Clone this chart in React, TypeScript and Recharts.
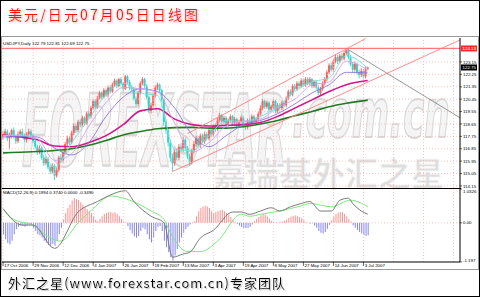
import React from 'react';
import { ComposedChart, Bar, Line, XAxis, YAxis, ReferenceLine, Cell } from 'recharts';

// ---------- data ----------
const opens = [
  117.7, 117.9, 118.1, 117.6, 117.8, 118.2, 117.7, 117.4, 117.9, 118.1,
  117.8, 117.5, 117.9, 118.1, 117.8, 117.4, 117.0, 116.6, 116.9, 116.2,
  115.8, 116.1, 115.5, 115.2, 115.6, 114.9, 115.3, 116.2, 116.0, 116.6,
  117.2, 117.6, 117.3, 118.0, 118.5, 118.2, 118.8, 118.6, 119.1, 118.7,
  119.4, 119.2, 119.8, 120.3, 119.9, 120.5, 120.9, 120.6, 121.1, 120.8,
  121.3, 121.0, 121.5, 121.8, 121.4, 121.9, 121.6, 121.2, 122.1, 121.7,
  121.3, 121.2, 120.5, 120.1, 120.9, 121.6, 121.9, 121.4, 120.6, 119.6,
  120.0, 120.7, 121.3, 121.5, 121.1, 120.4, 118.8, 118.2, 117.3, 116.2,
  115.8, 116.6, 116.2, 117.0, 116.8, 117.5, 116.9, 116.3, 115.9, 116.7,
  117.2, 117.6, 117.1, 117.8, 117.4, 117.9, 117.6, 118.2, 117.9, 118.5,
  118.3, 118.9, 119.3, 118.8, 119.1, 118.6, 118.9, 119.2, 118.7, 119.0,
  118.5, 118.8, 119.1, 118.6, 118.4, 118.9, 118.7, 119.2, 118.8, 119.0,
  119.4, 119.8, 120.3, 119.9, 120.2, 119.7, 119.9, 120.3, 119.6, 120.0,
  119.8, 120.2, 120.0, 120.5, 121.0, 120.8, 121.4, 121.2, 121.6, 121.4,
  121.8, 121.5, 121.9, 121.6, 121.9, 121.4, 121.7, 121.3, 120.9, 121.2,
  121.6, 121.9, 122.4, 122.9, 122.6, 123.2, 123.5, 123.2, 123.6, 123.4,
  123.8, 124.0, 123.5, 123.0, 122.6, 123.0, 122.4, 122.2, 122.5, 122.1, 122.6,
];
const highs = [
  118.1, 118.3, 118.25, 118.0, 118.3, 118.4, 117.8, 118.1, 118.25, 118.3,
  117.95, 118.05, 118.3, 118.25, 117.9, 117.55, 117.15, 117.1, 117.0, 116.4,
  116.3, 116.25, 115.7, 115.8, 115.75, 115.5, 116.35, 116.45, 116.75, 117.35,
  117.8, 117.75, 118.15, 118.7, 118.65, 118.95, 119.0, 119.25, 119.2, 119.55,
  119.6, 119.95, 120.45, 120.45, 120.7, 121.05, 121.0, 121.25, 121.2, 121.45,
  121.45, 121.65, 121.95, 121.9, 122.0, 122.05, 121.7, 122.2, 122.2, 121.85,
  121.5, 121.35, 120.65, 121.05, 121.75, 122.05, 122.0, 121.55, 120.7, 120.2,
  120.85, 121.45, 121.65, 121.6, 121.2, 120.5, 119.0, 118.4, 117.5, 116.5,
  116.8, 116.85, 117.2, 117.25, 117.7, 117.65, 117.05, 116.5, 116.85, 117.4,
  117.8, 117.75, 117.95, 117.95, 118.1, 118.05, 118.35, 118.4, 118.65, 118.7,
  119.1, 119.45, 119.4, 119.25, 119.2, 119.05, 119.35, 119.3, 119.15, 119.1,
  118.95, 119.25, 119.2, 118.75, 119.05, 119.05, 119.35, 119.3, 119.15, 119.55,
  120.0, 120.45, 120.4, 120.35, 120.3, 120.05, 120.45, 120.4, 120.15, 120.15,
  120.35, 120.35, 120.65, 121.15, 121.15, 121.55, 121.55, 121.75, 121.75, 121.95,
  121.95, 122.05, 122.05, 122.05, 122.0, 121.85, 121.85, 121.45, 121.35, 121.75,
  122.05, 122.55, 123.05, 123.1, 123.35, 123.7, 123.65, 123.75, 123.8, 123.95,
  124.13, 124.1, 123.65, 123.15, 123.2, 123.1, 122.6, 122.7, 122.65, 122.8, 122.81,
];
const lows = [
  117.5, 117.75, 117.4, 116.8, 117.6, 117.6, 117.2, 117.25, 117.7, 117.65,
  117.35, 117.3, 117.75, 117.65, 117.25, 116.8, 116.4, 116.45, 116.05, 115.6,
  115.65, 115.35, 115.0, 115.05, 114.6, 114.75, 115.15, 115.8, 115.85, 116.45,
  117.05, 117.1, 117.2, 117.85, 118.0, 118.05, 118.4, 118.45, 118.55, 118.6,
  119.05, 119.05, 119.7, 119.75, 119.75, 120.4, 120.45, 120.5, 120.65, 120.65,
  120.85, 120.9, 121.35, 121.25, 121.3, 121.45, 121.0, 121.1, 121.55, 121.1,
  121.0, 120.35, 119.95, 119.95, 120.8, 121.45, 121.25, 120.45, 119.45, 119.4,
  119.85, 120.55, 121.1, 120.95, 120.25, 118.5, 117.9, 117.0, 115.9, 115.2,
  115.6, 116.0, 116.0, 116.6, 116.6, 116.75, 116.1, 115.6, 115.7, 116.5,
  117.0, 116.95, 116.9, 117.25, 117.2, 117.45, 117.45, 117.7, 117.75, 118.1,
  118.15, 118.75, 118.6, 118.65, 118.45, 118.45, 118.75, 118.55, 118.55, 118.35,
  118.35, 118.65, 118.45, 118.2, 118.25, 118.55, 118.55, 118.65, 118.65, 118.85,
  119.25, 119.65, 119.75, 119.75, 119.55, 119.55, 119.75, 119.45, 119.45, 119.65,
  119.65, 119.85, 119.85, 120.35, 120.65, 120.65, 121.05, 121.05, 121.25, 121.25,
  121.35, 121.35, 121.45, 121.45, 121.25, 121.25, 121.15, 120.75, 120.75, 121.05,
  121.45, 121.75, 122.25, 122.45, 122.45, 123.05, 123.0, 123.05, 123.25, 123.25,
  123.65, 123.35, 122.85, 122.4, 122.45, 122.25, 121.95, 122.05, 121.95, 121.95, 122.69,
];
const closes = [
  117.9, 118.1, 117.6, 117.8, 118.2, 117.7, 117.4, 117.9, 118.1, 117.8,
  117.5, 117.9, 118.1, 117.8, 117.4, 117.0, 116.6, 116.9, 116.2, 115.8,
  116.1, 115.5, 115.2, 115.6, 114.9, 115.3, 116.2, 116.0, 116.6, 117.2,
  117.6, 117.3, 118.0, 118.5, 118.2, 118.8, 118.6, 119.1, 118.7, 119.4,
  119.2, 119.8, 120.3, 119.9, 120.5, 120.9, 120.6, 121.1, 120.8, 121.3,
  121.0, 121.5, 121.8, 121.4, 121.9, 121.6, 121.2, 122.1, 121.7, 121.3,
  121.2, 120.5, 120.1, 120.9, 121.6, 121.9, 121.4, 120.6, 119.6, 120.0,
  120.7, 121.3, 121.5, 121.1, 120.4, 118.8, 118.2, 117.3, 116.2, 115.8,
  116.6, 116.2, 117.0, 116.8, 117.5, 116.9, 116.3, 115.9, 116.7, 117.2,
  117.6, 117.1, 117.8, 117.4, 117.9, 117.6, 118.2, 117.9, 118.5, 118.3,
  118.9, 119.3, 118.8, 119.1, 118.6, 118.9, 119.2, 118.7, 119.0, 118.5,
  118.8, 119.1, 118.6, 118.4, 118.9, 118.7, 119.2, 118.8, 119.0, 119.4,
  119.8, 120.3, 119.9, 120.2, 119.7, 119.9, 120.3, 119.6, 120.0, 119.8,
  120.2, 120.0, 120.5, 121.0, 120.8, 121.4, 121.2, 121.6, 121.4, 121.8,
  121.5, 121.9, 121.6, 121.9, 121.4, 121.7, 121.3, 120.9, 121.2, 121.6,
  121.9, 122.4, 122.9, 122.6, 123.2, 123.5, 123.2, 123.6, 123.4, 123.8,
  124.0, 123.5, 123.0, 122.6, 123.0, 122.4, 122.2, 122.5, 122.1, 122.6, 122.75,
];

// moving averages, read at sparse bar positions
const maIdx = [0, 8, 16, 24, 32, 40, 48, 56, 64, 72, 80, 88, 96, 104, 112, 120, 128, 136, 144, 152, 160, 170];
const maCyan = [117.8, 117.85, 117.4, 115.5, 117.3, 119.0, 120.8, 121.6, 120.9, 120.7, 116.8, 116.7, 117.8, 118.9, 118.8, 119.2, 119.9, 121.0, 121.7, 122.0, 123.6, 122.7];
const maLavender = [117.8, 117.83, 117.6, 116.0, 116.5, 118.5, 120.2, 121.3, 121.2, 120.95, 118.7, 116.6, 117.3, 118.5, 118.85, 119.0, 119.85, 120.45, 121.5, 121.7, 123.2, 122.55];
const maPurple = [117.7, 117.75, 117.7, 116.9, 116.4, 117.3, 119.2, 120.6, 121.2, 121.0, 119.8, 117.9, 117.0, 117.8, 118.6, 118.9, 119.4, 120.1, 120.9, 121.5, 122.4, 122.35];
const maMagenta = [117.85, 117.7, 117.5, 117.05, 117.0, 117.3, 117.8, 118.6, 119.6, 119.75, 119.0, 118.6, 118.5, 118.55, 118.6, 118.75, 119.2, 119.8, 120.4, 121.0, 121.5, 121.8];
const maGreen = [116.55, 116.6, 116.65, 116.72, 116.85, 117.1, 117.45, 117.85, 118.1, 118.3, 118.38, 118.4, 118.35, 118.35, 118.45, 118.65, 118.9, 119.25, 119.55, 119.9, 120.15, 120.38];

// MACD histogram, one value per bar
const hist = [
  -0.35, -0.5, -0.62, -0.66, -0.55, -0.35, -0.2, -0.12, -0.08, -0.1,
  -0.12, -0.08, -0.05, -0.05, -0.15, -0.25, -0.35, -0.38, -0.45, -0.55,
  -0.6, -0.68, -0.72, -0.65, -0.7, -0.55, -0.35, -0.15, 0.1, 0.3,
  0.45, 0.55, 0.68, 0.75, 0.72, 0.7, 0.62, 0.55, 0.48, 0.42,
  0.35, 0.3, 0.2, 0.1, 0.05, 0.12, 0.2, 0.27, 0.3, 0.32,
  0.33, 0.3, 0.32, 0.28, 0.2, 0.12, 0.05, 0.02, -0.1, -0.22,
  -0.33, -0.42, -0.46, -0.4, -0.25, -0.15, -0.2, -0.35, -0.5, -0.6,
  -0.45, -0.25, -0.12, -0.1, -0.25, -0.55, -0.75, -0.9, -1.05, -1.15,
  -1.0, -0.8, -0.6, -0.45, -0.3, -0.2, -0.12, -0.05, 0.02, 0.05,
  0.2, 0.35, 0.45, 0.5, 0.52, 0.5, 0.45, 0.35, 0.3, 0.33,
  0.35, 0.38, 0.4, 0.35, 0.3, 0.25, 0.18, 0.1, 0.03, -0.03,
  -0.08, -0.13, -0.16, -0.17, -0.15, -0.12, -0.05, 0.05, 0.12, 0.18,
  0.23, 0.26, 0.25, 0.2, 0.13, 0.06, 0.03, 0.02, 0.02, 0.03,
  0.04, 0.06, 0.1, 0.15, 0.19, 0.21, 0.22, 0.2, 0.18, 0.14,
  0.08, 0.03, 0.01, -0.02, -0.01, -0.08, -0.15, -0.25, -0.3, -0.33,
  -0.28, -0.18, -0.06, 0.08, 0.18, 0.26, 0.31, 0.33, 0.32, 0.28,
  0.2, 0.12, 0.04, -0.08, -0.15, -0.22, -0.28, -0.33, -0.37, -0.4, -0.38,
];
const macdIdx = [0, 9, 14, 24, 35, 44, 50, 57, 61, 69, 75, 79, 84, 87, 92, 98, 107, 111, 115, 120, 125, 129, 134, 139, 143, 148, 153, 157, 161, 163, 167, 170];
const macdVals = [0.43, -0.07, -0.07, -0.78, 0.33, 0.65, 0.85, 0.98, 0.65, 0.2, 0.0, -1.05, -0.95, -0.9, -0.46, -0.23, 0.33, 0.33, 0.26, 0.36, 0.46, 0.36, 0.49, 0.59, 0.65, 0.36, 0.36, 0.69, 0.75, 0.59, 0.36, 0.26];
const signalIdx = [0, 5, 14, 22, 27, 35, 42, 50, 59, 69, 75, 78, 86, 92, 100, 111, 115, 120, 129, 139, 143, 153, 162, 170];
const signalVals = [0.43, 0.1, -0.07, -0.46, -0.56, 0.0, 0.43, 0.82, 0.69, 0.36, 0.1, -0.3, -0.88, -0.88, -0.56, 0.26, 0.2, 0.26, 0.36, 0.52, 0.59, 0.49, 0.69, 0.49];

// axis ticks / labels
const xTickIdx = [0, 14, 28, 42, 56, 70, 84, 98, 112, 126, 140, 154, 168, 182, 196, 210];
const xTickLabels = ['17 Oct 2006', '29 Nov 2006', '12 Dec 2006', '4 Jan 2007', '26 Jan 2007', '19 Feb 2007', '13 Mar 2007', '3 Apr 2007', '19 Apr 2007', '8 May 2007', '27 May 2007', '14 Jun 2007', '3 Jul 2007'];
const priceTicks = [114.15, 115.05, 115.95, 116.85, 117.75, 118.65, 119.55, 120.45, 121.35, 122.25, 123.15];
const macdTicks = [1.0326, 0, -1.197];
const macdTickLabels = ['1.0326', '0.00', '-1.197'];
const highLevel = 124.13;
const lastPrice = 122.75;
// trend lines: [barIndex, price]
const channelLow: [number, number][] = [[79, 115.2], [213, 124.75]];
const channelHigh: [number, number][] = [[86, 117.95], [169, 124.85]];
const downLine: [number, number][] = [[160, 124.13], [213, 119.1]];

// ---------- layout / style ----------
const SLOTS = 213;
const X_DOMAIN: [number, number] = [-0.5, SLOTS];
const UP = '#ff5c5c';
const DOWN = '#35d4c8';
const GRID = '#f3b9b9';
const FONT = 'Liberation Sans, Arial, sans-serif';
const TICK_FS = 4.4;

const mainRows: any[] = Array.from({ length: SLOTS }, (_, i) => {
  const r: any = { i };
  if (i < closes.length) {
    r.o = opens[i]; r.h = highs[i]; r.l = lows[i]; r.c = closes[i];
  }
  return r;
});
maIdx.forEach((idx, k) => {
  mainRows[idx].cy = maCyan[k];
  mainRows[idx].lv = maLavender[k];
  mainRows[idx].pu = maPurple[k];
  mainRows[idx].mg = maMagenta[k];
  mainRows[idx].gr = maGreen[k];
});
const macdRows: any[] = Array.from({ length: SLOTS }, (_, i) => {
  const r: any = { i };
  if (i < hist.length) r.hist = hist[i];
  return r;
});
macdIdx.forEach((idx, k) => { macdRows[idx].macd = macdVals[k]; });
signalIdx.forEach((idx, k) => { macdRows[idx].sig = signalVals[k]; });

const Candle = (props: any) => {
  const { x, y, width, height, payload } = props;
  if (!payload || payload.o == null || !isFinite(y)) return null;
  const { o, h, l, c } = payload;
  const color = c >= o ? UP : DOWN;
  const k = height / (h - l || 1);
  const yOf = (v: number) => y + (h - v) * k;
  const top = yOf(Math.max(o, c));
  const bot = yOf(Math.min(o, c));
  const cx = x + width / 2;
  return (
    <g>
      <line x1={cx} x2={cx} y1={y} y2={y + height} stroke={color} strokeWidth={0.9} />
      <rect x={x} y={top} width={width} height={Math.max(bot - top, 0.9)} fill={color} />
    </g>
  );
};

const PriceTick = (props: any) => {
  const { x, y, payload } = props;
  return (
    <g>
      <line x1={x} x2={x + 2} y1={y} y2={y} stroke="#000" strokeWidth={0.6} />
      <text x={x + 3} y={y + 1.6} fontSize={TICK_FS} fontFamily={FONT} fill="#000">{Number(payload.value).toFixed(2)}</text>
    </g>
  );
};

const MacdTick = (props: any) => {
  const { x, y, payload } = props;
  const k = macdTicks.indexOf(payload.value);
  const dy = k === 0 ? 4 : k === macdTicks.length - 1 ? -0.5 : 1.6;
  return (
    <g>
      <line x1={x} x2={x + 2} y1={y} y2={y} stroke="#000" strokeWidth={0.6} />
      <text x={x + 3} y={y + dy} fontSize={TICK_FS} fontFamily={FONT} fill="#000">{macdTickLabels[k]}</text>
    </g>
  );
};

const DateTick = (props: any) => {
  const { x, y, payload } = props;
  const k = xTickIdx.indexOf(payload.value);
  const label = xTickLabels[k];
  if (!label) return null;
  return (
    <g>
      <line x1={x} x2={x} y1={y} y2={y + 4} stroke="#000" strokeWidth={0.6} />
      <text x={x + 1.2} y={y + 5} fontSize={TICK_FS} fontFamily={FONT} fill="#000">{label}</text>
    </g>
  );
};

const PriceBox = (props: any) => {
  const { viewBox, text, bg } = props;
  if (!viewBox) return null;
  const x = viewBox.x + viewBox.width + 1;
  const y = viewBox.y;
  return (
    <g>
      <rect x={x} y={y - 3} width={16} height={6} fill={bg} />
      <text x={x + 1.5} y={y + 1.6} fontSize={TICK_FS} fontFamily={FONT} fill="#fff">{text}</text>
    </g>
  );
};

const gridV = xTickIdx.map((v) => (
  <ReferenceLine key={'gv' + v} x={v} stroke={GRID} strokeDasharray="1 2" strokeWidth={0.8} />
));

export default function App() {
  return (
    <div style={{ position: 'absolute', left: 0, top: 0, width: 480, height: 297, background: '#fff', overflow: 'hidden' }}>
      {/* watermark */}
      <svg width={480} height={297} style={{ position: 'absolute', left: 0, top: 0 }}>
        <g transform="translate(22,166) scale(1,2.5)">
          <text x={0} y={0} fontSize={40} fontStyle="italic" fontWeight="bold" fontFamily="DejaVu Sans, sans-serif"
            fill="#f5f5f5" stroke="#d9d9d9" strokeWidth={0.9}>FOREXSTAR</text>
        </g>
        <g transform="translate(292,137) scale(1,1.9)">
          <text x={0} y={0} fontSize={36} fontStyle="italic" fontWeight="bold" fontFamily="DejaVu Sans, sans-serif"
            fill="#f5f5f5" stroke="#d9d9d9" strokeWidth={1}>.com.cn</text>
        </g>
        <text x={213} y={186} fontSize={33} fontWeight="bold" fontFamily="Noto Sans CJK SC, sans-serif"
          fill="#dedede" stroke="#f8f8f8" strokeWidth={1}>嘉瑞基外汇之星</text>
      </svg>

      {/* price panel */}
      <div style={{ position: 'absolute', left: 0, top: 33 }}>
        <ComposedChart width={480} height={160} data={mainRows} margin={{ top: 5, right: 2, bottom: 5, left: 2 }}>
          <XAxis dataKey="i" type="number" domain={X_DOMAIN} hide allowDataOverflow />
          <YAxis orientation="right" width={18} type="number" domain={[114.0, 124.89]} ticks={priceTicks}
            allowDataOverflow tickLine={false} tickSize={0} tickMargin={0} axisLine={{ stroke: '#000', strokeWidth: 1 }}
            tick={<PriceTick />} interval={0} />
          {priceTicks.map((v) => (
            <ReferenceLine key={'gh' + v} y={v} stroke={GRID} strokeDasharray="1 2" strokeWidth={0.8} />
          ))}
          {gridV}
          <ReferenceLine y={highLevel} stroke="#ff7b7b" strokeWidth={1.2}
            label={<PriceBox text={highLevel.toFixed(2)} bg="#ff2a2a" />} />
          <ReferenceLine y={lastPrice} stroke="none" label={<PriceBox text={lastPrice.toFixed(2)} bg="#000" />} />
          <Bar dataKey={(d: any) => (d.o == null ? null : [d.l, d.h])} barSize={2} shape={<Candle />} isAnimationActive={false} />
          <Line dataKey="gr" stroke="#237a23" strokeWidth={1.6} dot={false} connectNulls type="monotone" isAnimationActive={false} />
          <Line dataKey="mg" stroke="#d0188c" strokeWidth={1.6} dot={false} connectNulls type="monotone" isAnimationActive={false} />
          <Line dataKey="pu" stroke="#8a74e0" strokeWidth={0.9} dot={false} connectNulls type="monotone" isAnimationActive={false} />
          <Line dataKey="lv" stroke="#c9a3ee" strokeWidth={0.9} dot={false} connectNulls type="monotone" isAnimationActive={false} />
          <Line dataKey="cy" stroke="#6ee3df" strokeWidth={0.9} dot={false} connectNulls type="monotone" isAnimationActive={false} />
          <ReferenceLine segment={channelLow.map(([x, y]) => ({ x, y }))} stroke="#ff8080" strokeWidth={0.9} ifOverflow="visible" />
          <ReferenceLine segment={channelHigh.map(([x, y]) => ({ x, y }))} stroke="#ff8080" strokeWidth={0.9} ifOverflow="visible" />
          <ReferenceLine segment={downLine.map(([x, y]) => ({ x, y }))} stroke="#8c8c8c" strokeWidth={0.9} ifOverflow="visible" />
        </ComposedChart>
      </div>

      {/* MACD panel */}
      <div style={{ position: 'absolute', left: 0, top: 184 }}>
        <ComposedChart width={480} height={86} data={macdRows} margin={{ top: 5, right: 2, bottom: 0, left: 2 }}>
          <XAxis dataKey="i" type="number" domain={X_DOMAIN} ticks={xTickIdx} interval={0} allowDataOverflow
            height={8} tickLine={false} tickSize={0} tickMargin={0} axisLine={{ stroke: '#000', strokeWidth: 1 }}
            tick={<DateTick />} />
          <YAxis orientation="right" width={18} type="number" domain={[-1.197, 1.0326]} ticks={macdTicks}
            allowDataOverflow tickLine={false} tickSize={0} tickMargin={0} axisLine={{ stroke: '#000', strokeWidth: 1 }}
            tick={<MacdTick />} interval={0} />
          <ReferenceLine y={0} stroke={GRID} strokeDasharray="1 2" strokeWidth={0.8} />
          {gridV}
          <Bar dataKey="hist" barSize={1} isAnimationActive={false}>
            {macdRows.map((r) => (
              <Cell key={'c' + r.i} fill={(r.hist ?? 0) >= 0 ? '#ff8f8f' : '#8585ee'} />
            ))}
          </Bar>
          <Line dataKey="sig" stroke="#7ee87e" strokeWidth={1} dot={false} connectNulls type="monotone" isAnimationActive={false} />
          <Line dataKey="macd" stroke="#7a7a7a" strokeWidth={1} dot={false} connectNulls type="monotone" isAnimationActive={false} />
        </ComposedChart>
      </div>

      {/* frame, captions */}
      <svg width={480} height={297} style={{ position: 'absolute', left: 0, top: 0, pointerEvents: 'none' }}>
        <defs>
          <filter id="titleGlow" x="-5%" y="-30%" width="110%" height="160%">
            <feDropShadow dx={1} dy={1} stdDeviation={0.8} floodColor="#f7a6a6" />
          </filter>
          <filter id="footShadow" x="-5%" y="-30%" width="110%" height="160%">
            <feDropShadow dx={1.2} dy={1.2} stdDeviation={0.6} floodColor="#c8c8c8" />
          </filter>
        </defs>
        <rect x={0.5} y={0.5} width={479} height={296} fill="none" stroke="#000" strokeWidth={1} />
        <rect x={1.5} y={36.5} width={477} height={233} fill="none" stroke="#9a9a9a" strokeWidth={1} />
        <line x1={2} x2={461} y1={188.5} y2={188.5} stroke="#000" strokeWidth={1} />
        <text x={8} y={20} fontSize={14} fontFamily="Noto Sans CJK SC, sans-serif" fill="#ff1010"
          textLength={190} lengthAdjust="spacing" filter="url(#titleGlow)">美元/日元07月05日日线图</text>
        <text x={3} y={44.5} fontSize={TICK_FS} fontFamily={FONT} fill="#000">USDJPY,Daily  122.79 122.81 122.69 122.75</text>
        <text x={3} y={193.5} fontSize={TICK_FS} fontFamily={FONT} fill="#000">MACD(12,26,9) 0.1994 0.3740 0.0000 -0.3490</text>
        <text x={8} y={288} fontSize={13} fontFamily="Noto Sans CJK SC, sans-serif" fill="#000"
          textLength={277} lengthAdjust="spacing" filter="url(#footShadow)">外汇之星(www.forexstar.com.cn)专家团队</text>
      </svg>
    </div>
  );
}
